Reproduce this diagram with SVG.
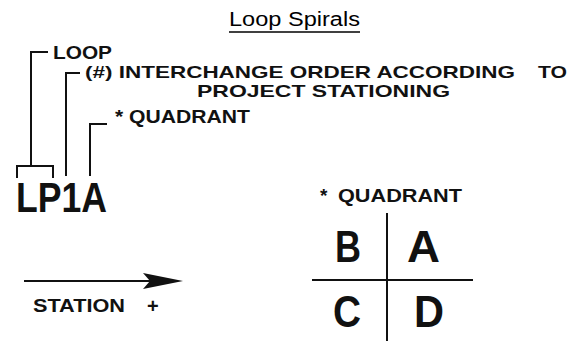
<svg xmlns="http://www.w3.org/2000/svg" width="587" height="341" viewBox="0 0 587 341">
<style>
.lbl{font-family:"Liberation Sans",Arial,sans-serif;font-weight:bold;fill:#111}
.ln{stroke:#111;stroke-width:2;fill:none}
.big{font-family:"Liberation Sans",Arial,sans-serif;font-weight:bold;fill:#111}
</style>
<rect width="587" height="341" fill="#fff"/>
<g id="title">
<text x="229" y="26" font-family="Liberation Sans, Arial, sans-serif" font-size="20" fill="#000" textLength="131" lengthAdjust="spacingAndGlyphs">Loop Spirals</text>
<line x1="229" y1="32" x2="360" y2="32" stroke="#000" stroke-width="1.5"/>
</g>
<g id="connectors">
<polyline class="ln" points="48,52 31,52 31,166"/>
<polyline class="ln" points="17,178 17,166 53,166 53,178"/>
<polyline class="ln" points="80,73 66,73 66,176"/>
<polyline class="ln" points="107,124 90,124 90,176"/>
<line class="ln" x1="24" y1="281" x2="160" y2="281"/>
<polygon points="183,281 143,273 150,281 143,289" fill="#111"/>
<line class="ln" x1="387" y1="213" x2="387" y2="341"/>
<line class="ln" x1="312" y1="280" x2="473" y2="280"/>
</g>
<g id="loop">
<text class="lbl" x="53" y="58.5" font-size="18" textLength="59" lengthAdjust="spacingAndGlyphs">LOOP</text>
</g>
<g id="interchange">
<text class="lbl" x="85" y="78" font-size="17"><tspan textLength="430" lengthAdjust="spacingAndGlyphs">(#) INTERCHANGE ORDER ACCORDING</tspan><tspan x="538" textLength="29" lengthAdjust="spacingAndGlyphs">TO</tspan></text>
<text class="lbl" x="197" y="97" font-size="17" textLength="253" lengthAdjust="spacingAndGlyphs">PROJECT STATIONING</text>
</g>
<g id="quadrant-label">
<text class="lbl" x="115" y="123" font-size="18" textLength="135" lengthAdjust="spacingAndGlyphs">* QUADRANT</text>
</g>
<g id="lp1a">
<text class="big" x="16" y="212" font-size="42" textLength="91" lengthAdjust="spacingAndGlyphs">LP1A</text>
</g>
<g id="station">
<text class="lbl" x="33" y="312" font-size="19" textLength="92" lengthAdjust="spacingAndGlyphs">STATION</text>
<text class="lbl" x="147" y="313" font-size="20" font-weight="normal">+</text>
</g>
<g id="quadrant-grid">
<text class="lbl" x="320" y="202" font-size="19">*</text>
<text class="lbl" x="338" y="202" font-size="19" textLength="124" lengthAdjust="spacingAndGlyphs">QUADRANT</text>
<text class="big" x="335" y="262" font-size="44" textLength="26" lengthAdjust="spacingAndGlyphs">B</text>
<text class="big" x="407" y="262" font-size="44" textLength="33" lengthAdjust="spacingAndGlyphs">A</text>
<text class="big" x="333" y="327" font-size="44" textLength="28" lengthAdjust="spacingAndGlyphs">C</text>
<text class="big" x="414" y="327" font-size="44" textLength="30" lengthAdjust="spacingAndGlyphs">D</text>
</g>
</svg>
